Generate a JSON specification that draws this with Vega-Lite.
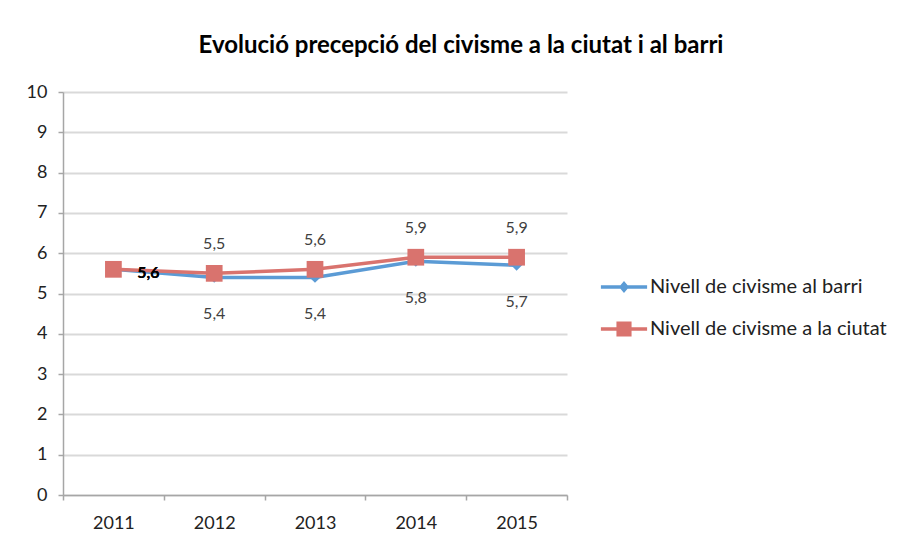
{
  "$schema": "https://vega.github.io/schema/vega-lite/v6.json",
  "width": 504,
  "height": 403,
  "autosize": "none",
  "padding": {"left": 63, "top": 92, "right": 334, "bottom": 45},
  "background": "white",
  "config": {
    "font": "Lato",
    "view": {"stroke": null},
    "locale": {"number": {"decimal": ",", "thousands": ".", "grouping": [3], "currency": ["", " €"]}}
  },
  "title": {
    "text": "Evolució precepció del civisme a la ciutat i al barri",
    "font": "Lato",
    "fontSize": 24,
    "fontWeight": "bold",
    "color": "#000000",
    "anchor": "middle",
    "dx": 146,
    "offset": 25
  },
  "data": {
    "values": [
      {"year": "2011", "series": "Nivell de civisme al barri", "value": 5.6},
      {"year": "2012", "series": "Nivell de civisme al barri", "value": 5.4},
      {"year": "2013", "series": "Nivell de civisme al barri", "value": 5.4},
      {"year": "2014", "series": "Nivell de civisme al barri", "value": 5.8},
      {"year": "2015", "series": "Nivell de civisme al barri", "value": 5.7},
      {"year": "2011", "series": "Nivell de civisme a la ciutat", "value": 5.6},
      {"year": "2012", "series": "Nivell de civisme a la ciutat", "value": 5.5},
      {"year": "2013", "series": "Nivell de civisme a la ciutat", "value": 5.6},
      {"year": "2014", "series": "Nivell de civisme a la ciutat", "value": 5.9},
      {"year": "2015", "series": "Nivell de civisme a la ciutat", "value": 5.9}
    ]
  },
  "encoding": {
    "x": {
      "field": "year", "type": "ordinal",
      "scale": {"type": "band", "paddingInner": 0, "paddingOuter": 0},
      "axis": {
        "title": null, "labelAngle": 0, "tickBand": "extent", "grid": false,
        "labelFont": "Lato", "labelFontSize": 18, "labelColor": "#222222",
        "domainColor": "#a6a6a6", "domainWidth": 1.5, "tickColor": "#a6a6a6", "tickWidth": 1.5,
        "tickSize": 5, "labelPadding": 14
      }
    },
    "y": {
      "field": "value", "type": "quantitative",
      "scale": {"domain": [0, 10], "nice": false},
      "axis": {
        "title": null, "values": [0,1,2,3,4,5,6,7,8,9,10], "format": "d",
        "labelFont": "Lato", "labelFontSize": 18, "labelColor": "#222222",
        "gridColor": "#d9d9d9", "gridWidth": 2,
        "domainColor": "#a6a6a6", "domainWidth": 1.5, "tickColor": "#a6a6a6", "tickWidth": 1.5,
        "tickSize": 5, "labelPadding": 11
      }
    }
  },
  "layer": [
    {
      "mark": {"type": "line", "strokeWidth": 3.5},
      "encoding": {
        "color": {
          "field": "series", "type": "nominal",
          "scale": {"domain": ["Nivell de civisme al barri", "Nivell de civisme a la ciutat"], "range": ["#5B9BD5", "#D9736E"]},
          "legend": {
            "title": null, "orient": "none", "legendX": 540, "legendY": 174,
            "symbolSize": 1764, "symbolStrokeWidth": 0, "rowPadding": 11, "labelOffset": 5,
            "labelFont": "Lato", "labelFontSize": 20, "labelColor": "#222222", "labelLimit": 400,
            "encode": {
              "symbols": {
                "update": {
                  "shape": {"signal": "datum.value === 'Nivell de civisme al barri' ? 'M-1.1,-0.085H1.1V0.085H-1.1Z M0,-0.29L0.24,0L0,0.29L-0.24,0Z' : 'M-1.1,-0.085H1.1V0.085H-1.1Z M-0.36,-0.36H0.36V0.36H-0.36Z'"},
                  "fill": {"signal": "datum.value === 'Nivell de civisme al barri' ? '#5B9BD5' : '#D9736E'"},
                  "stroke": {"value": "transparent"},
                  "strokeWidth": {"value": 0},
                  "opacity": {"value": 1}
                }
              }
            }
          }
        }
      }
    },
    {
      "transform": [{"filter": "datum.series === 'Nivell de civisme al barri'"}],
      "mark": {"type": "point", "filled": true, "opacity": 1, "shape": "diamond", "size": 120},
      "encoding": {"color": {"field": "series", "type": "nominal", "legend": null}}
    },
    {
      "transform": [{"filter": "datum.series === 'Nivell de civisme a la ciutat'"}],
      "mark": {"type": "point", "filled": true, "opacity": 1, "shape": "square", "size": 280},
      "encoding": {"color": {"field": "series", "type": "nominal", "legend": null}}
    },
    {
      "transform": [{"filter": "datum.series === 'Nivell de civisme a la ciutat' && datum.year !== '2011'"}],
      "mark": {"type": "text", "dy": -29, "font": "Lato", "fontSize": 16, "color": "#404040"},
      "encoding": {"text": {"field": "value", "type": "quantitative", "format": ".1f"}}
    },
    {
      "transform": [{"filter": "datum.series === 'Nivell de civisme al barri' && datum.year !== '2011'"}],
      "mark": {"type": "text", "dy": 37, "font": "Lato", "fontSize": 16, "color": "#404040"},
      "encoding": {"text": {"field": "value", "type": "quantitative", "format": ".1f"}}
    },
    {
      "transform": [{"filter": "datum.year === '2011'"}],
      "mark": {"type": "text", "dx": 35, "dy": 4, "font": "Lato", "fontSize": 16, "fontWeight": "bold", "color": "#000000"},
      "encoding": {"text": {"field": "value", "type": "quantitative", "format": ".1f"}}
    }
  ]
}
